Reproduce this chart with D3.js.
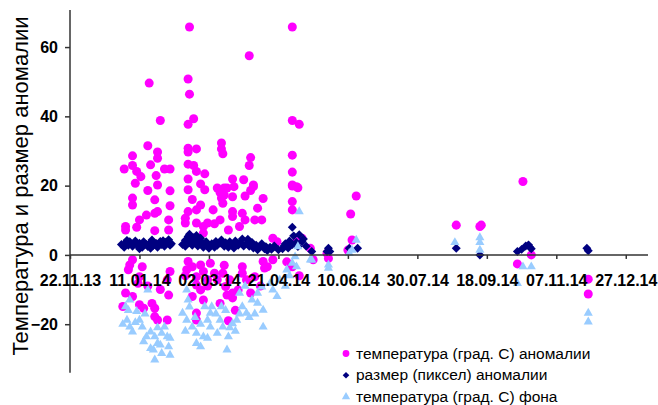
<!DOCTYPE html>
<html>
<head>
<meta charset="utf-8">
<script src="https://cdn.jsdelivr.net/npm/d3@7"></script>
<style>
  body { margin: 0; background: #fff; }
  svg { display: block; font-family: "Liberation Sans", Arial, sans-serif; }
</style>
</head>
<body>
<script>
const WIDTH = 658;
const HEIGHT = 405;

// observation day = days since 22.11.13
const START = new Date(2013, 10, 22);

const tempDays = [
  57, 65, 56, 45, 63, 63, 39, 45, 48, 51, 58, 62, 68, 72, 47, 56, 63, 72, 45, 45, 61, 63, 61, 72, 50, 40, 40, 71, 71, 48, 61, 55,
  45, 43, 42, 52, 50, 49, 40, 38, 45, 50, 53, 59, 61, 61, 63, 70, 72, 70, 71, 56, 65,
  86, 85, 86, 89, 85, 85, 91, 85, 85, 89, 91, 97, 85, 85, 97, 85, 91, 94, 83, 83, 91, 96, 99, 96, 88, 94,
  85, 88, 84, 94, 96, 91, 99, 91, 94, 91, 91, 83, 88, 96,
  109, 109, 110, 108, 111, 117, 118, 117, 106, 111, 109, 113, 103, 110, 117, 117, 108, 114, 122, 104,
  101, 99, 104, 106, 110, 115, 112, 117, 117, 113, 121, 108, 119, 114, 111,
  129, 130, 129, 125, 132, 130, 139, 124, 126, 133, 138, 132, 126, 146, 149, 135,
  124, 124, 133, 127, 139, 140, 142, 146, 130, 137,
  160, 160, 165, 160, 160, 160, 164, 160, 163, 160, 160, 163, 167, 173, 160, 175, 165, 156,
  185, 186, 200, 202, 206, 203, 278, 295, 296, 326, 322, 332, 373, 373
];
const tempValues = [
  49.6, 38.8, 31.5, 28.6, 29.7, 27.9, 24.8, 25.8, 24.1, 22.6, 26, 22.9, 24.8, 24.8, 20.7, 18.6, 20.2, 18.5, 16.4, 14.4, 15.9, 12.5, 12, 14.2, 10.1, 8.2, 7.2, 10.1, 7.2, 8, 7, 11.5,
  -1.4, -2.9, -4.3, -3.4, -6.3, -8.2, -11, -14.9, -12, -14.4, -15.4, -14, -15.4, -17.8, -18.8, -18.8, -4.8, -7.2, -11.6, -9, -10,
  65.8, 50.8, 46.4, 39.3, 37.7, 30.8, 30.6, 29.7, 26.2, 25.8, 24.1, 23.4, 21.9, 18.8, 18.8, 12.5, 13, 14.4, 10.6, 9.2, 9.2, 8.2, 9.2, 6.3, 16, 20.5,
  -1.9, -3.4, -4.3, -2.9, -4.8, -6.3, -7.2, -8.7, -10.1, -16.8, -18.8, -6, -12, -13,
  32.3, 30.6, 29.2, 18, 19.3, 21.9, 19.7, 16.8, 19.3, 17.3, 16.4, 19.3, 13, 14.9, 12.5, 11.1, 10.1, 7.2, 8.2, 9,
  -2.4, -9, -5.3, -7.2, -5.3, -7.2, -9.1, -11, -12.4, -11.6, -10.1, -14, -16, -19, -3,
  57.5, 28.1, 25.8, 21.7, 20.2, 18.6, 16.3, 12, 10.1, 10.1, 10.1, 19.7, 17, 4.8, 3.8, 13.5,
  -3.4, -5.3, -6.3, -7.2, -1.9, -3.8, -3.4, -1.4, -11, -9,
  65.8, 38.8, 37.7, 28.8, 23.9, 19.9, 19.4, 20.2, 19.7, 15.4, 13, 3.8, 4.8, 1.9, -3.4, -1.4, -6, -2,
  0.5, -1, 1.4, 11.8, 17, 4.3, 8.6, 8.2, 8.6, 21.2, -2.6, 0, -7, -11.3
];

const sizeDays = [
  37, 39, 40, 42, 43, 45, 46, 47, 49, 50, 52, 53, 55, 56, 58, 59, 60, 62, 63, 65, 66, 68, 69, 71, 72, 73, 41, 50, 58, 67,
  81, 83, 83, 85, 86, 87, 88, 89, 90, 91, 92, 94, 94, 96, 96, 98, 99, 100, 86, 91,
  102, 104, 105, 106, 108, 109, 111, 112, 114, 115, 117, 118, 119, 121, 122, 124, 125, 127, 128, 129, 131,
  132, 134, 135, 137, 138, 140, 141, 142, 144, 145, 147, 150,
  153, 154, 155, 157, 158, 160, 160, 161, 163, 164, 165, 167, 168, 170,
  174, 185, 186, 187, 201, 207, 278, 295, 322, 325, 328, 330, 331, 332, 372, 373
];
const sizeValues = [
  3, 2.2, 3.5, 2.8, 3.8, 2.5, 3.2, 4, 2.6, 3.4, 2.2, 3.8, 3, 2.4, 3.6, 4.3, 2.8, 3.3, 2.2, 3.9, 3, 2.5, 3.7, 4.4, 2.8, 3.2, 4.2, 1.8, 1.9, 4.1,
  3, 4.2, 2.5, 5.3, 3.6, 4.6, 2.8, 5, 3.8, 4.4, 2.6, 3.6, 4.8, 3.2, 2.2, 3.8, 2.7, 1.9, 6, 5.6,
  3.2, 2.2, 3.9, 2.8, 3.4, 4.3, 2.5, 3.5, 2.2, 3.8, 3, 2, 4, 2.8, 3.4, 4.6, 2.6, 3.3, 4.5, 2.5, 3.6,
  2, 2.8, 1.5, 2.5, 3.2, 1.8, 2.4, 1.3, 2.2, 1.6, 2.6, 1.5,
  1.8, 2.6, 3.2, 2, 4, 3, 8, 5.5, 3.6, 2.4, 5.8, 3.8, 4.6, 2.5,
  1, 1, 1.9, 1, 1.9, 1.9, 1.9, 0, 1, 1.6, 2.6, 2.9, 2.2, 1.8, 1.9, 1.2
];

const bgDays = [
  40, 43, 48, 50, 41, 43, 45, 52, 55, 58, 61, 63, 60, 61, 66, 70, 71, 72, 66, 68, 56, 38, 47, 54, 65, 58, 42, 72, 53, 63,
  84, 85, 81, 84, 88, 91, 91, 94, 96, 99, 97, 101, 101, 102, 86, 90, 83, 94, 99,
  109, 108, 110, 114, 113, 117, 120, 106, 112, 115, 119, 122, 105,
  122, 124, 127, 131, 135, 135, 139, 139, 138, 129, 133, 126,
  144, 146, 149, 151, 156, 160, 162, 164, 163, 165, 173, 155, 158,
  174, 186, 186, 201, 203, 206, 277, 295, 295, 295, 326, 332, 322, 373, 373
];
const bgValues = [
  -14.9, -13, -16.3, -18.8, -18.8, -20.8, -22.2, -20.8, -23.6, -22.2, -23.6, -25.5, -27.4, -30.3, -28.4, -23.6, -26.5, -28.9, -22.6, -20.8, -10.1, -20, -19.5, -17, -26, -27, -16, -24, -25, -21,
  -10.1, -13, -16.8, -18.8, -20.8, -22.6, -25.5, -26.5, -23.6, -18.8, -14.9, -16.8, -20.8, -14.9, -15, -18, -22, -20, -24,
  -14.9, -18.8, -20.8, -23.6, -27.4, -19.8, -18.8, -22.6, -16, -21, -22, -17, -17,
  -11, -14.9, -16.8, -13, -11, -13.9, -15.9, -20.8, -9.2, -18, -17, -9,
  -8.2, -10.1, -12, -7.2, -4.3, -2.4, -0.5, 2.4, -3.4, 12.5, -1.4, -9, -6,
  -1.4, -2.9, -3.8, 0.5, 1.4, 4.3, 3.6, 3.6, 1.4, 5, -3.4, -3.4, -8.2, -16.8, -19.3
];

// x ticks every 50 days
const tickDays = [0, 50, 100, 150, 200, 250, 300, 350, 400];
const yTicks = [-20, 0, 20, 40, 60];

const seriesNames = [
  'температура (град. С) аномалии',
  'размер (пиксел) аномалии',
  'температура (град. С) фона'
];
const colors = ['#FF00FF', '#000080', '#99CCFF'];

function day(n) {
  return d3.timeDay.offset(START, n);
}

var x = d3.scaleTime()
  .domain([START, day(416)])
  .range([70, 648]);

var y = d3.scaleLinear()
  .domain([-34, 70.7])
  .range([372.7, 10]);

var svg = d3.select('body')
  .append('svg')
  .attr('width', WIDTH)
  .attr('height', HEIGHT);

var circle = d3.symbol(d3.symbolCircle, 64);
var diamond = d3.symbol(d3.symbolSquare, 40);
var triangle = d3.symbol(d3.symbolTriangle, 36);

svg.append('g').selectAll('path')
  .data(tempDays)
  .enter()
  .append('path')
  .attr('d', circle)
  .attr('transform', function(d, i) {
    return 'translate(' + x(day(d)) + ',' + y(tempValues[i]) + ')';
  })
  .attr('fill', colors[0]);

svg.append('g').selectAll('path')
  .data(sizeDays)
  .enter()
  .append('path')
  .attr('d', diamond)
  .attr('transform', function(d, i) {
    return 'translate(' + x(day(d)) + ',' + y(sizeValues[i]) + ') rotate(45)';
  })
  .attr('fill', colors[1]);

svg.append('g').selectAll('path')
  .data(bgDays)
  .enter()
  .append('path')
  .attr('d', triangle)
  .attr('transform', function(d, i) {
    return 'translate(' + x(day(d)) + ',' + y(bgValues[i]) + ')';
  })
  .attr('fill', colors[2]);

// axes drawn over the points, like the original
var yAxis = svg.append('g')
  .attr('transform', 'translate(70,0)')
  .call(d3.axisLeft(y).tickValues(yTicks).tickSize(5).tickPadding(7).tickFormat(d3.format('d')));
yAxis.select('.domain').attr('d', 'M0,' + y.range()[0] + 'V' + y.range()[1]);

var xAxis = svg.append('g')
  .attr('transform', 'translate(0,' + y(0) + ')')
  .call(d3.axisBottom(x).tickValues(tickDays.map(day)).tickSize(4).tickFormat(d3.timeFormat('%d.%m.%y')));
xAxis.select('.domain').attr('d', 'M' + x.range()[0] + ',0H' + x.range()[1]);
xAxis.selectAll('text').attr('y', 31).attr('dy', 0);

svg.selectAll('.domain, .tick line')
  .attr('stroke', '#333')
  .attr('stroke-width', 1.5);
svg.selectAll('.tick text')
  .attr('fill', '#000')
  .attr('font-size', 16)
  .attr('font-weight', 'bold')
  .attr('font-family', '"Liberation Sans", Arial, sans-serif');

// y title
svg.append('text')
  .attr('transform', 'translate(28,186) rotate(-90)')
  .attr('text-anchor', 'middle')
  .attr('font-size', 22)
  .attr('fill', '#000')
  .text('Температура и размер аномалии');

// legend
var shapes = [d3.symbol(d3.symbolCircle, 36), d3.symbol(d3.symbolSquare, 22), d3.symbol(d3.symbolTriangle, 30)];
var legend = svg.append('g').selectAll('g')
  .data(seriesNames)
  .enter()
  .append('g')
  .attr('transform', function(d, i) {
    return 'translate(346,' + (353.5 + i * 21.7) + ')';
  });
legend.append('path')
  .attr('d', function(d, i) { return shapes[i](); })
  .attr('transform', function(d, i) { return i === 1 ? 'rotate(45)' : null; })
  .attr('fill', function(d, i) { return colors[i]; });
legend.append('text')
  .attr('x', 10)
  .attr('y', 5)
  .attr('font-size', 15.5)
  .attr('fill', '#000')
  .text(function(d) { return d; });
</script>
</body>
</html>
